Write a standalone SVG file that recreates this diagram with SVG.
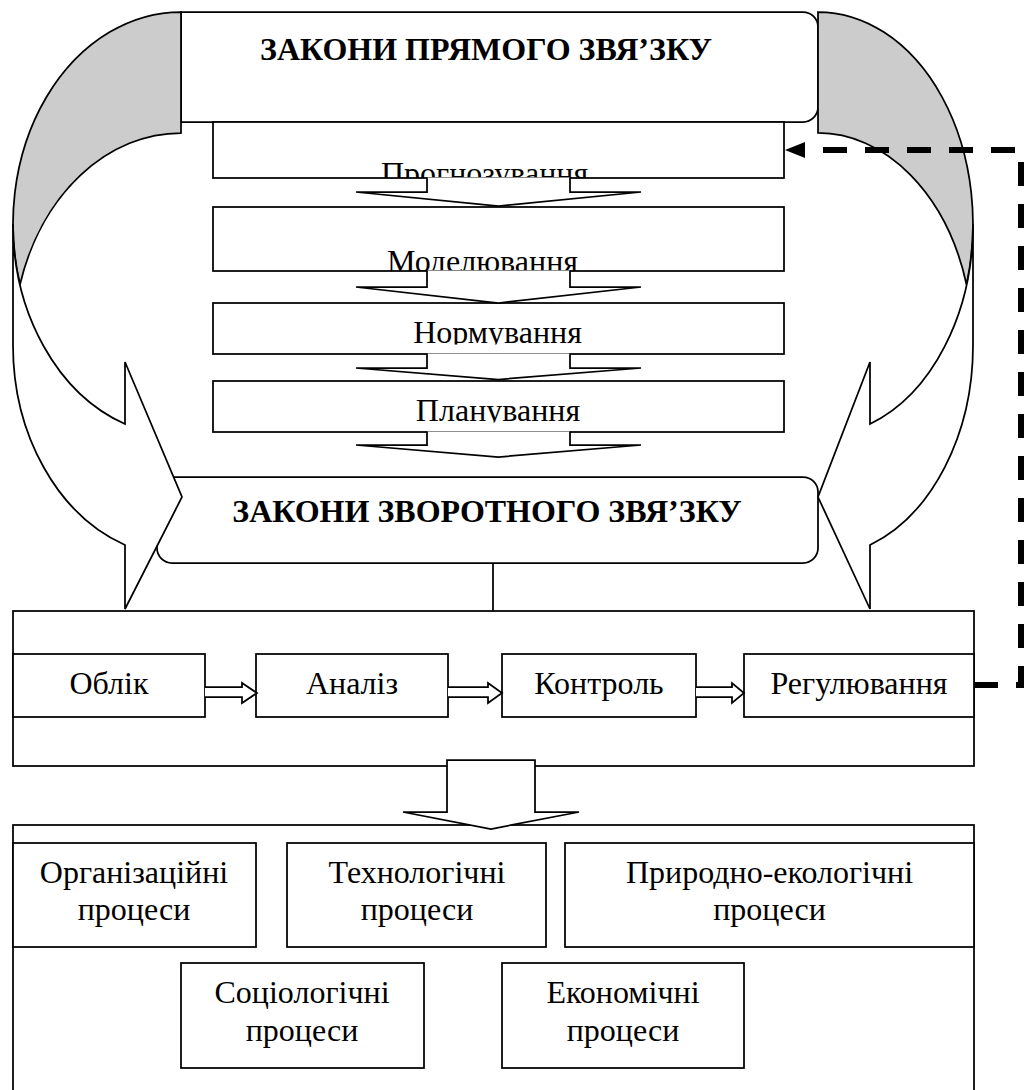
<svg xmlns="http://www.w3.org/2000/svg" width="1024" height="1090" viewBox="0 0 1024 1090">
<defs>
<style>
.box{fill:#fff;stroke:#000;stroke-width:1.75}
.blk{fill:#fff;stroke:#000;stroke-width:1.75;stroke-linejoin:miter}
.back{fill:#ccc;stroke:#000;stroke-width:1.75}
.t{font-family:"Liberation Serif","Times New Roman",serif;font-size:32px;fill:#000;text-anchor:middle}
.tb{font-weight:bold;font-size:32px}
.dash{fill:none;stroke:#000;stroke-width:6;stroke-dasharray:24 18}
</style>
<clipPath id="c1"><rect x="213" y="122" width="571" height="56"/></clipPath>
<clipPath id="c2"><rect x="213" y="207" width="571" height="64"/></clipPath>
<clipPath id="c3"><rect x="213" y="303" width="571" height="41.5"/></clipPath>
<clipPath id="c4"><rect x="213" y="381" width="571" height="41.5"/></clipPath>
<marker id="ah" viewBox="0 0 20 16" markerUnits="userSpaceOnUse" markerWidth="20" markerHeight="16" refX="0" refY="8" orient="auto">
<path d="M0,0 L20,8 L0,16 Z" fill="#000"/>
</marker>
</defs>
<rect width="1024" height="1090" fill="#fff"/>

<g id="n-pryamyi">
<path class="box" d="M181,12 H803 A15,15 0 0 1 818,27 V107 A15,15 0 0 1 803,122 H181 Z"/>
<text class="t tb" x="486" y="60">ЗАКОНИ ПРЯМОГО ЗВЯ’ЗКУ</text>
</g>
<g id="n-prohnozuvannia">
<rect class="box" x="213" y="122" width="571" height="56"/>
<text class="t" x="484.5" y="184" clip-path="url(#c1)">Прогнозування</text>
</g>
<g id="n-modeliuvannia">
<rect class="box" x="213" y="207" width="571" height="64"/>
<text class="t" x="482.5" y="272" clip-path="url(#c2)">Моделювання</text>
</g>
<g id="n-normuvannia">
<rect class="box" x="213" y="303" width="571" height="51"/>
<text class="t" x="497.5" y="343" clip-path="url(#c3)">Нормування</text>
</g>
<g id="n-planuvannia">
<rect class="box" x="213" y="381" width="571" height="51"/>
<text class="t" x="498" y="421" clip-path="url(#c4)">Планування</text>
</g>
<g id="n-zvorotnyi">
<rect class="box" x="157" y="477" width="661" height="86" rx="15" ry="15"/>
<text class="t tb" x="487" y="522">ЗАКОНИ ЗВОРОТНОГО ЗВЯ’ЗКУ</text>
</g>
<g id="n-funktsii">
<rect class="box" x="13" y="611" width="961" height="155"/>
</g>
<g id="n-oblik">
<rect class="box" x="13" y="654" width="192" height="63"/>
<text class="t" x="109" y="694">Облік</text>
</g>
<g id="n-analiz">
<rect class="box" x="256" y="654" width="192" height="63"/>
<text class="t" x="352" y="694">Аналіз</text>
</g>
<g id="n-kontrol">
<rect class="box" x="502" y="654" width="194" height="63"/>
<text class="t" x="599" y="694">Контроль</text>
</g>
<g id="n-rehuliuvannia">
<rect class="box" x="744" y="654" width="230" height="63"/>
<text class="t" x="859" y="694">Регулювання</text>
</g>
<g id="n-protsesy">
<rect class="box" x="13" y="825" width="961" height="275"/>
</g>
<g id="n-orh">
<rect class="box" x="13" y="843" width="243" height="104"/>
<text class="t" x="134" y="883">Організаційні</text>
<text class="t" x="134" y="920">процеси</text>
</g>
<g id="n-tekh">
<rect class="box" x="287" y="843" width="259" height="104"/>
<text class="t" x="417" y="883">Технологічні</text>
<text class="t" x="417" y="920">процеси</text>
</g>
<g id="n-pryr">
<rect class="box" x="565" y="843" width="409" height="104"/>
<text class="t" x="769.5" y="883">Природно-екологічні</text>
<text class="t" x="769.5" y="920">процеси</text>
</g>
<g id="n-sots">
<rect class="box" x="181" y="963" width="243" height="105"/>
<text class="t" x="302" y="1003">Соціологічні</text>
<text class="t" x="302" y="1041">процеси</text>
</g>
<g id="n-ekon">
<rect class="box" x="502" y="963" width="242" height="105"/>
<text class="t" x="623" y="1003">Економічні</text>
<text class="t" x="623" y="1041">процеси</text>
</g>

<g id="connectors">
<path class="blk" d="M427,177.5 V192 H356 L498.5,206 L641,192 H570 V177.5"/>
<path class="blk" d="M427,270.5 V287 H356 L498.5,303 L641,287 H570 V270.5"/>
<path class="blk" d="M427,353.5 V368 H356 L498.5,379.5 L641,368 H570 V353.5"/>
<path class="blk" d="M427,431.5 V445 H356 L498.5,457 L641,445 H570 V431.5"/>
<path class="back" d="M181,12 A168,212 0 0 0 20,284.5 A168,212 0 0 1 181,133 Z"/>
<path class="blk" d="M13,224 A168,212 0 0 0 125,424 L125,362 L182,497 L125,609 L125,545 A168,212 0 0 1 13,345 Z"/>
<path class="back" d="M818,12 A155,212 0 0 1 966.5,284.5 A155,212 0 0 0 818,133 Z"/>
<path class="blk" d="M973,224 A155,212 0 0 1 870,424 L870,362 L818,497 L870,609 L870,545 A155,212 0 0 0 973,345 Z"/>
<line x1="493" y1="563" x2="493" y2="611" stroke="#000" stroke-width="1.75"/>
<path class="blk" d="M205,687 H242 V683 L257,693 L242,703 V697 H205"/>
<path class="blk" d="M448,687 H488 V683 L502,693 L488,703 V697 H448"/>
<path class="blk" d="M696,687 H732 V683 L744,693 L732,703 V697 H696"/>
<path class="blk" d="M447,760 H535 V812 H579 L491,829 L403,812 H447 Z"/>
<path class="dash" d="M974,685 H1021 V150 H805" marker-end="url(#ah)"/>
</g>
</svg>
